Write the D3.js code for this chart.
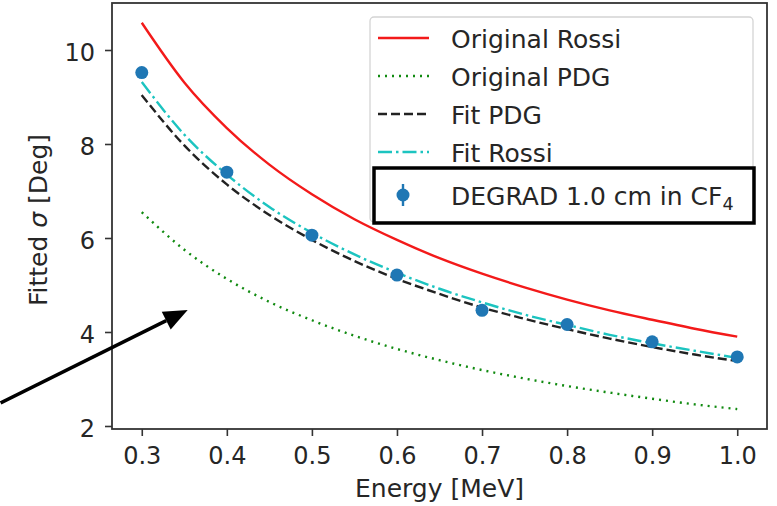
<!DOCTYPE html>
<html>
<head>
<meta charset="utf-8">
<script src="https://cdn.jsdelivr.net/npm/d3@7"></script>
<style>
  body { margin: 0; background: #fff; }
  svg { display: block; font-family: "DejaVu Sans", sans-serif; }
  .tick text { fill: #262626; }
</style>
</head>
<body>
<div class="sigma-plot"></div>
<script>
// energies the curves were sampled at (MeV)
var energy = [0.30, 0.35, 0.40, 0.45, 0.50, 0.55, 0.60, 0.65, 0.70, 0.75, 0.80, 0.85, 0.90, 0.95, 1.00];

var origRossi = [10.58, 9.31, 8.34, 7.56, 6.93, 6.40, 5.96, 5.57, 5.24, 4.95, 4.69, 4.46, 4.26, 4.07, 3.90];
var origPDG   = [6.55, 5.75, 5.13, 4.64, 4.25, 3.92, 3.64, 3.40, 3.19, 3.01, 2.85, 2.71, 2.58, 2.46, 2.36];
var fitPDG    = [9.04, 7.97, 7.14, 6.49, 5.96, 5.51, 5.13, 4.81, 4.52, 4.28, 4.06, 3.86, 3.68, 3.52, 3.38];
var fitRossi  = [9.32, 8.20, 7.35, 6.66, 6.11, 5.65, 5.26, 4.92, 4.63, 4.37, 4.15, 3.94, 3.76, 3.60, 3.45];

// DEGRAD simulation points
var degradE     = [0.3, 0.4, 0.5, 0.6, 0.7, 0.8, 0.9, 1.0];
var degradSigma = [9.52, 7.40, 6.06, 5.21, 4.46, 4.16, 3.79, 3.47];
var degradErr   = [0.08, 0.07, 0.06, 0.05, 0.05, 0.05, 0.04, 0.04];

var xTicks = [0.3, 0.4, 0.5, 0.6, 0.7, 0.8, 0.9, 1.0];
var yTicks = [2, 4, 6, 8, 10];

var seriesNames = ["Original Rossi", "Original PDG", "Fit PDG", "Fit Rossi"];

var w = 777;
var h = 506;
var tickFont = 24;
var labelFont = 25;

var scaleX = d3.scaleLinear()
    .domain([0.265, 1.035])
    .range([112, 767]);

var scaleY = d3.scaleLinear()
    .domain([1.936, 11.0])
    .range([429, 3]);

var svg = d3.select(".sigma-plot")
    .append("svg")
    .attr("width", w)
    .attr("height", h);

var styles = [
    { color: "#f31a1a", dash: null },
    { color: "#108a10", dash: "2,5" },
    { color: "#222222", dash: "9,4" },
    { color: "#1cc4c0", dash: "14,4,2.5,4" }
];

var curves = [origRossi, origPDG, fitPDG, fitRossi];

var line = d3.line()
    .x(function(d) { return scaleX(d[0]); })
    .y(function(d) { return scaleY(d[1]); })
    .curve(d3.curveMonotoneX);

curves.forEach(function(vals, k) {
    svg.append("path")
        .datum(energy.map(function(e, i) { return [e, vals[i]]; }))
        .attr("d", line)
        .attr("fill", "none")
        .attr("stroke", styles[k].color)
        .attr("stroke-width", 2.4)
        .attr("stroke-dasharray", styles[k].dash);
});

// error bars + markers
var pts = degradE.map(function(e, i) { return { e: e, s: degradSigma[i], err: degradErr[i] }; });

svg.selectAll(".errbar")
    .data(pts)
    .enter()
    .append("line")
    .attr("class", "errbar")
    .attr("x1", function(d) { return scaleX(d.e); })
    .attr("x2", function(d) { return scaleX(d.e); })
    .attr("y1", function(d) { return scaleY(d.s - d.err); })
    .attr("y2", function(d) { return scaleY(d.s + d.err); })
    .attr("stroke", "#1f77b4")
    .attr("stroke-width", 2.4);

svg.selectAll(".dot")
    .data(pts)
    .enter()
    .append("circle")
    .attr("class", "dot")
    .attr("cx", function(d) { return scaleX(d.e); })
    .attr("cy", function(d) { return scaleY(d.s); })
    .attr("r", 6.5)
    .attr("fill", "#1f77b4");

// axes
var axisX = d3.axisBottom(scaleX)
    .tickValues(xTicks)
    .tickFormat(d3.format(".1f"))
    .tickSize(7)
    .tickPadding(11);

var axisY = d3.axisLeft(scaleY)
    .tickValues(yTicks)
    .tickSize(7)
    .tickPadding(10);

var gx = svg.append("g")
    .attr("transform", "translate(0, 429)")
    .call(axisX);

var gy = svg.append("g")
    .attr("transform", "translate(112, 0)")
    .call(axisY);

[gx, gy].forEach(function(g) {
    g.select(".domain").remove();
    g.selectAll(".tick line").attr("stroke", "#333").attr("stroke-width", 1.6);
    g.selectAll(".tick text").attr("font-size", tickFont).attr("font-family", "DejaVu Sans");
});
gy.selectAll(".tick text").attr("dy", "0.42em");

svg.append("rect")
    .attr("x", 112)
    .attr("y", 3)
    .attr("width", 767 - 112)
    .attr("height", 429 - 3)
    .attr("fill", "none")
    .attr("stroke", "#333")
    .attr("stroke-width", 1.8);

svg.append("text")
    .attr("x", (112 + 767) / 2)
    .attr("y", 497)
    .attr("text-anchor", "middle")
    .attr("font-size", labelFont)
    .attr("fill", "#262626")
    .text("Energy [MeV]");

var yLabel = svg.append("text")
    .attr("transform", "translate(47, 220) rotate(-90)")
    .attr("text-anchor", "middle")
    .attr("font-size", labelFont)
    .attr("fill", "#262626");
yLabel.append("tspan").text("Fitted ");
yLabel.append("tspan").attr("font-style", "italic").text("σ");
yLabel.append("tspan").text(" [Deg]");

// legend
var legend = svg.append("g");

legend.append("rect")
    .attr("x", 370)
    .attr("y", 17)
    .attr("width", 383)
    .attr("height", 205)
    .attr("rx", 4)
    .attr("fill", "#fff")
    .attr("fill-opacity", 0.85)
    .attr("stroke", "#d4d4d4")
    .attr("stroke-width", 1.3);

var rowY = [38, 76, 114, 152, 195];

seriesNames.forEach(function(name, k) {
    legend.append("line")
        .attr("x1", 378)
        .attr("x2", 429)
        .attr("y1", rowY[k])
        .attr("y2", rowY[k])
        .attr("stroke", styles[k].color)
        .attr("stroke-width", 2.4)
        .attr("stroke-dasharray", styles[k].dash);
    legend.append("text")
        .attr("x", 451)
        .attr("y", rowY[k])
        .attr("dy", "0.38em")
        .attr("font-size", labelFont)
        .attr("fill", "#262626")
        .text(name);
});

legend.append("line")
    .attr("x1", 403).attr("x2", 403)
    .attr("y1", rowY[4] - 11).attr("y2", rowY[4] + 11)
    .attr("stroke", "#1f77b4")
    .attr("stroke-width", 2.4);
legend.append("circle")
    .attr("cx", 403)
    .attr("cy", rowY[4])
    .attr("r", 6.5)
    .attr("fill", "#1f77b4");

var degradText = legend.append("text")
    .attr("x", 451)
    .attr("y", rowY[4])
    .attr("dy", "0.38em")
    .attr("font-size", labelFont)
    .attr("fill", "#262626");
degradText.append("tspan").text("DEGRAD 1.0 cm in CF");
degradText.append("tspan").attr("font-size", labelFont * 0.7).attr("dy", "0.3em").text("4");

// highlight box around the DEGRAD entry
svg.append("rect")
    .attr("x", 374)
    .attr("y", 168)
    .attr("width", 380)
    .attr("height", 55)
    .attr("fill", "none")
    .attr("stroke", "#000")
    .attr("stroke-width", 3.5);

// arrow pointing into the plot
var tail = [scaleX(0.134), scaleY(2.49)];
var tip = [scaleX(0.354), scaleY(4.47)];
var ang = Math.atan2(tip[1] - tail[1], tip[0] - tail[0]);
var headLen = 24, headW = 10;
var base = [tip[0] - headLen * Math.cos(ang), tip[1] - headLen * Math.sin(ang)];

svg.append("line")
    .attr("x1", tail[0]).attr("y1", tail[1])
    .attr("x2", base[0]).attr("y2", base[1])
    .attr("stroke", "#000")
    .attr("stroke-width", 3.5);

svg.append("path")
    .attr("d", "M" + tip + "L" + [base[0] + headW * Math.sin(ang), base[1] - headW * Math.cos(ang)]
        + "L" + [base[0] - headW * Math.sin(ang), base[1] + headW * Math.cos(ang)] + "Z")
    .attr("fill", "#000");
</script>
</body>
</html>
